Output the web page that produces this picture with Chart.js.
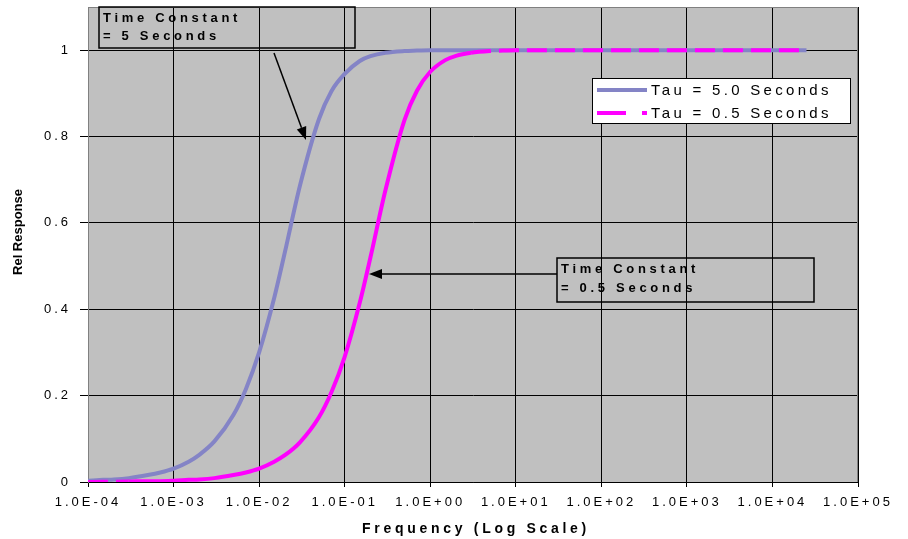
<!DOCTYPE html>
<html>
<head>
<meta charset="utf-8">
<title>Rel Response vs Frequency</title>
<script src="https://cdn.jsdelivr.net/npm/chart.js@4.4.1/dist/chart.umd.min.js"></script>
<style>
    html, body { margin: 0; padding: 0; background: #fff; }
    canvas { display: block; }
</style>
</head>
<body>
<canvas id="respChart" width="908" height="539"></canvas>
<script>
// ============================================
// Data
// ============================================
const freq = [1e-4, 1.5e-4, 2e-4, 3e-4, 5e-4, 7e-4, 1e-3, 1.5e-3, 2e-3, 3e-3, 5e-3, 7e-3,
    1e-2, 1.5e-2, 2e-2, 3e-2, 5e-2, 7e-2, 1e-1, 1.5e-1, 2e-1, 3e-1, 5e-1, 7e-1,
    1, 1.5, 2, 3, 5, 7, 10, 30, 100, 300, 1000, 3000, 1e4, 2.5e4];

const tau5Resp = [0.003, 0.005, 0.006, 0.009, 0.016, 0.022, 0.031, 0.047, 0.063, 0.094, 0.155, 0.215,
    0.300, 0.426, 0.532, 0.686, 0.840, 0.905, 0.945, 0.975, 0.986, 0.994, 0.998, 0.999,
    1, 1, 1, 1, 1, 1, 1, 1, 1, 1, 1, 1, 1, 1];

const tau05Resp = [0.000, 0.0005, 0.0006, 0.001, 0.002, 0.002, 0.003, 0.005, 0.006, 0.009, 0.016, 0.022,
    0.031, 0.047, 0.062, 0.092, 0.150, 0.208, 0.290, 0.415, 0.520, 0.676, 0.838, 0.906,
    0.950, 0.977, 0.987, 0.994, 0.998, 0.999, 1, 1, 1, 1, 1, 1, 1, 1];

const xTicks = [1e-4, 1e-3, 1e-2, 1e-1, 1e0, 1e1, 1e2, 1e3, 1e4, 1e5];
const seriesLabels = ['Tau = 5.0 Seconds', 'Tau = 0.5 Seconds'];
const noteTexts = [['Time Constant', '= 5 Seconds'], ['Time Constant', '= 0.5 Seconds']];

const BLUE = '#8484c6';
const MAGENTA = '#ff00ff';
const FONT = '"Liberation Sans", Arial, sans-serif';

// 1.0E-04 style labels
function sciLabel(v) {
    const exp = Math.round(Math.log10(v));
    const sign = exp < 0 ? '-' : '+';
    return '1.0E' + sign + String(Math.abs(exp)).padStart(2, '0');
}

function toPoints(ys) {
    return freq.map((f, i) => ({ x: f, y: ys[i] }));
}

// Helper: spaced text
function spacedText(ctx, text, x, y, font, spacing, align) {
    ctx.save();
    ctx.font = font;
    ctx.letterSpacing = spacing + 'px';
    ctx.textAlign = align || 'left';
    ctx.textBaseline = 'middle';
    ctx.fillStyle = '#000';
    ctx.fillText(text, x, y);
    ctx.restore();
}

function arrow(ctx, x0, y0, x1, y1) {
    const ang = Math.atan2(y1 - y0, x1 - x0);
    const len = 13, half = 5;
    ctx.save();
    ctx.strokeStyle = '#000';
    ctx.fillStyle = '#000';
    ctx.lineWidth = 1.5;
    ctx.beginPath();
    ctx.moveTo(x0, y0);
    ctx.lineTo(x1 - Math.cos(ang) * len, y1 - Math.sin(ang) * len);
    ctx.stroke();
    ctx.beginPath();
    ctx.moveTo(x1, y1);
    ctx.lineTo(x1 - Math.cos(ang) * len - Math.sin(ang) * half, y1 - Math.sin(ang) * len + Math.cos(ang) * half);
    ctx.lineTo(x1 - Math.cos(ang) * len + Math.sin(ang) * half, y1 - Math.sin(ang) * len - Math.cos(ang) * half);
    ctx.closePath();
    ctx.fill();
    ctx.restore();
}

// Plot background, frame, titles, legend and notes
const chartDecor = {
    id: 'chartDecor',
    beforeUpdate(chart) {
        chart.ctx.letterSpacing = '3px';
    },
    beforeDraw(chart) {
        const a = chart.chartArea;
        const ctx = chart.ctx;
        ctx.save();
        ctx.fillStyle = '#c0c0c0';
        ctx.fillRect(a.left, a.top, a.right - a.left, a.bottom - a.top);
        ctx.restore();
    },
    beforeDatasetsDraw(chart) {
        const a = chart.chartArea;
        const ctx = chart.ctx;
        ctx.save();
        ctx.strokeStyle = '#808080';
        ctx.lineWidth = 1;
        ctx.beginPath();
        ctx.moveTo(a.left + 0.5, a.bottom);
        ctx.lineTo(a.left + 0.5, a.top + 0.5);
        ctx.lineTo(a.right - 0.5, a.top + 0.5);
        ctx.lineTo(a.right - 0.5, a.bottom);
        ctx.stroke();
        ctx.restore();
    },
    afterDraw(chart) {
        const ctx = chart.ctx;
        const a = chart.chartArea;

        // axis titles
        spacedText(ctx, 'Frequency (Log Scale)', 476, 529, 'bold 14px ' + FONT, 3.7, 'center');
        ctx.save();
        ctx.translate(18, 232);
        ctx.rotate(-Math.PI / 2);
        spacedText(ctx, 'Rel Response', 0, 0, 'bold 13px ' + FONT, 0, 'center');
        ctx.restore();

        // legend
        ctx.save();
        ctx.fillStyle = '#fff';
        ctx.strokeStyle = '#000';
        ctx.lineWidth = 1;
        ctx.fillRect(592, 78, 258, 45);
        ctx.strokeRect(592.5, 78.5, 258, 45);
        ctx.lineWidth = 4;
        ctx.strokeStyle = BLUE;
        ctx.beginPath();
        ctx.moveTo(597, 90);
        ctx.lineTo(647, 90);
        ctx.stroke();
        ctx.strokeStyle = MAGENTA;
        ctx.beginPath();
        ctx.moveTo(597, 113);
        ctx.lineTo(626, 113);
        ctx.moveTo(642, 113);
        ctx.lineTo(647, 113);
        ctx.stroke();
        ctx.restore();
        spacedText(ctx, seriesLabels[0], 651, 91, '15px ' + FONT, 3.3);
        spacedText(ctx, seriesLabels[1], 651, 114, '15px ' + FONT, 3.3);

        // notes with arrows
        ctx.save();
        ctx.strokeStyle = '#000';
        ctx.lineWidth = 1.5;
        ctx.strokeRect(99, a.top, 256, 41);
        ctx.strokeRect(557, 258, 257, 44);
        ctx.restore();
        spacedText(ctx, noteTexts[0][0], 103, 18, 'bold 13px ' + FONT, 3.7);
        spacedText(ctx, noteTexts[0][1], 103, 36, 'bold 13px ' + FONT, 3.7);
        spacedText(ctx, noteTexts[1][0], 561, 269, 'bold 13px ' + FONT, 3.7);
        spacedText(ctx, noteTexts[1][1], 561, 288, 'bold 13px ' + FONT, 3.7);
        arrow(ctx, 274, 53, 306, 140);
        arrow(ctx, 557, 274, 369, 274);
    }
};

document.addEventListener('DOMContentLoaded', function() {
    const ctx = document.getElementById('respChart');
    new Chart(ctx, {
        type: 'line',
        data: {
            datasets: [{
                label: seriesLabels[0],
                data: toPoints(tau5Resp),
                borderColor: BLUE,
                borderWidth: 4,
                pointRadius: 0,
                cubicInterpolationMode: 'monotone',
                order: 1
            }, {
                label: seriesLabels[1],
                data: toPoints(tau05Resp),
                borderColor: MAGENTA,
                borderWidth: 4,
                pointRadius: 0,
                cubicInterpolationMode: 'monotone',
                order: 0,
                segment: {
                    // dash pattern shows on the flat top and at the very start only
                    borderDash: c => {
                        const dx = Math.abs(c.p1.x - c.p0.x);
                        const dy = Math.abs(c.p1.y - c.p0.y);
                        const flat = dy < dx * 0.2;
                        const zone = c.p0.parsed.y > 0.98 || c.p1.parsed.x <= 3e-4;
                        return flat && zone ? [20, 8] : undefined;
                    }
                }
            }]
        },
        options: {
            responsive: false,
            animation: false,
            devicePixelRatio: 1,
            layout: { padding: { top: 7, right: 50, left: 0, bottom: 0 } },
            plugins: {
                legend: { display: false },
                tooltip: { enabled: false }
            },
            scales: {
                x: {
                    type: 'logarithmic',
                    min: 1e-4,
                    max: 1e5,
                    afterBuildTicks: scale => { scale.ticks = xTicks.map(v => ({ value: v })); },
                    afterFit: scale => { scale.height = 57; },
                    grid: { color: '#000', tickColor: '#000', tickLength: 5, lineWidth: 1 },
                    border: { color: '#000', width: 1 },
                    ticks: {
                        maxRotation: 0,
                        autoSkip: false,
                        padding: 8,
                        color: '#000',
                        font: { family: FONT, size: 13 },
                        callback: v => sciLabel(v)
                    },
                    title: { display: false }
                },
                y: {
                    min: 0,
                    max: 1.1,
                    afterBuildTicks: scale => { scale.ticks = scale.ticks.filter(t => t.value <= 1.0001); },
                    afterFit: scale => {
                        scale.width = 88;
                        scale.paddingTop = 0;
                        scale.paddingBottom = 0;
                    },
                    grid: { color: '#000', tickColor: '#000', tickLength: 8, lineWidth: 1 },
                    border: { color: '#808080', width: 1 },
                    ticks: {
                        stepSize: 0.2,
                        padding: 9,
                        color: '#000',
                        font: { family: FONT, size: 13 },
                        callback: v => String(+v.toFixed(1))
                    },
                    title: { display: false }
                }
            }
        },
        plugins: [chartDecor]
    });
});
</script>
</body>
</html>
